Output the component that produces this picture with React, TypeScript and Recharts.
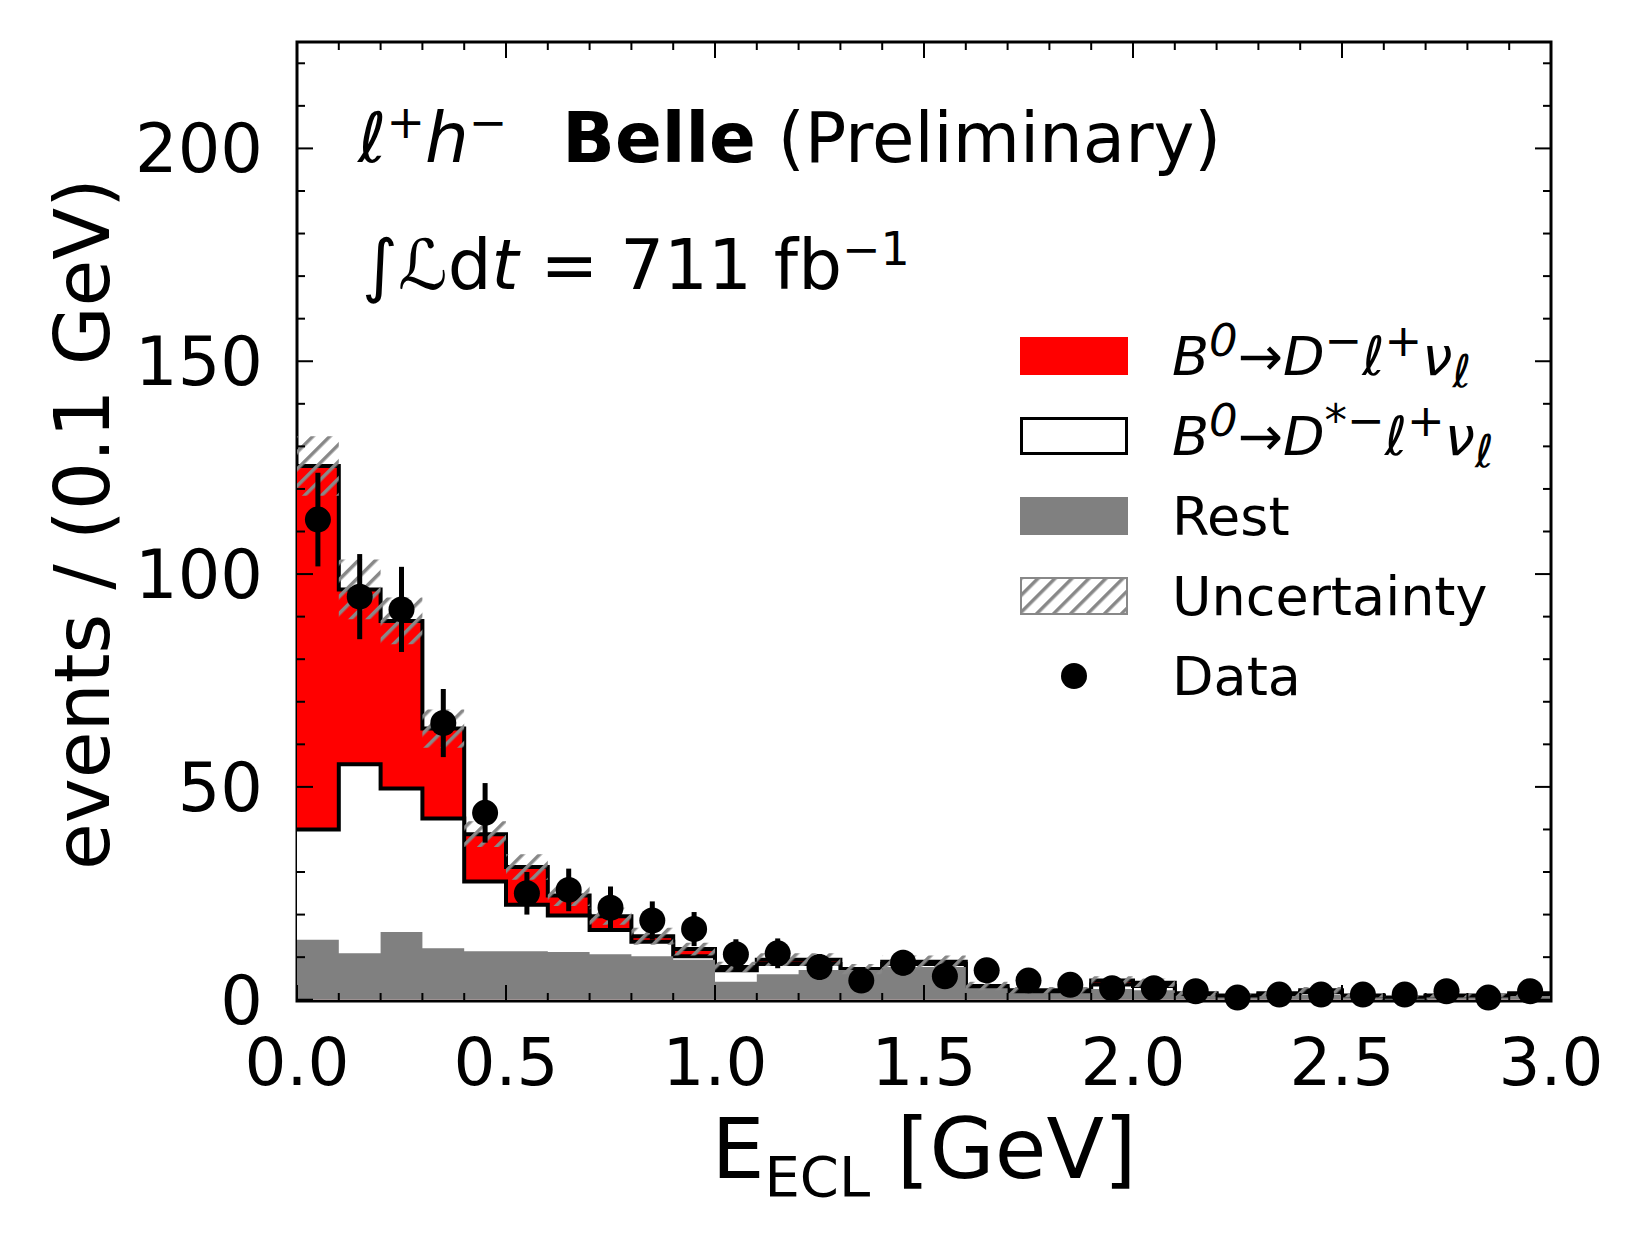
import React from "react"
import { ComposedChart, Area, Scatter, ErrorBar, XAxis, YAxis } from "recharts"

const binLow = Array.from({ length: 30 }, (_, i) => Math.round(i) / 10)
const total = [125.4, 96.4, 89, 63.7, 38.9, 31.2, 24.5, 19.6, 14.9, 11.9, 7.7, 9.4, 9.4, 7.2, 8.9, 8.9, 3.2, 2.2, 2.2, 4.5, 4, 1.5, 1, 1.5, 2.2, 1, 0.5, 1, 1, 1.5]
const dstar = [40, 55.3, 49.6, 42.6, 27.8, 22.3, 19.8, 16.4, 13.6, 10.2, 6.9, 8.4, 8.4, 6.9, 8.4, 8.4, 2.6, 1.8, 1.8, 3.6, 3.2, 1.2, 0.8, 1.2, 1.8, 0.8, 0.4, 0.8, 0.8, 1.2]
const rest = [14.1, 10.9, 15.9, 12.1, 11.4, 11.4, 11.2, 10.7, 10.2, 9.4, 4.2, 6, 7, 7, 7.7, 7.7, 2.7, 1.5, 1.5, 2.5, 2.2, 0.8, 0.5, 0.8, 1.2, 0.5, 0.2, 0.5, 0.5, 0.8]
const unc = [7, 7, 5.5, 4.5, 3, 3, 2.5, 2, 2, 1.5, 1.2, 1.5, 1.5, 1.2, 1.5, 1.5, 1, 0.8, 0.8, 1, 1, 0.6, 0.5, 0.6, 0.8, 0.5, 0.4, 0.5, 0.5, 0.6]
const dataY = [112.8, 94.7, 91.7, 65, 43.9, 25, 25.8, 21.6, 18.6, 16.6, 10.7, 10.9, 7.7, 4.5, 8.7, 5.5, 6.9, 4.5, 3.5, 2.7, 2.7, 2, 0.5, 1.2, 1.2, 1.2, 1.2, 2, 0.5, 2]
const dataErr = [11, 10, 10, 8, 7, 5, 5, 5, 4.5, 4, 3.5, 3.5, 3, 2.2, 3, 2.5, 2.5, 2.2, 1.9, 1.7, 1.7, 1.4, 0.8, 1.1, 1.1, 1.1, 1.1, 1.4, 0.8, 1.4]
const xTicks = Array.from({ length: 31 }, (_, i) => i / 10)
const yTicks = Array.from({ length: 23 }, (_, i) => i * 10)

const L = 297, R = 1551, T = 42, B = 1001
const W = 1647, H = 1235
const FONT = "DejaVu Sans"

const steps = [...binLow, 3].map((x, i) => {
  const j = Math.min(i, 29)
  return { x, total: total[j], dstar: dstar[j], rest: rest[j], band: [total[j] - unc[j], total[j] + unc[j]] }
})
const points = binLow.map((x, i) => ({ x: x + 0.05, y: dataY[i], err: dataErr[i] }))

const isMajor = (v: number, step: number) => Math.abs(v / step - Math.round(v / step)) < 1e-6

const BottomTick = (p: any) => {
  const v = p.payload.value
  const major = isMajor(v, 0.5)
  return (
    <g>
      <line x1={p.x} x2={p.x} y1={B} y2={B - (major ? 16 : 8)} stroke="#000" strokeWidth={2} />
      <line x1={p.x} x2={p.x} y1={T} y2={T + (major ? 16 : 8)} stroke="#000" strokeWidth={2} />
      {major && <text x={p.x} y={B + 84} textAnchor="middle" fontSize={66} fontFamily={FONT}>{v.toFixed(1)}</text>}
    </g>
  )
}
const LeftTick = (p: any) => {
  const v = p.payload.value
  const major = isMajor(v, 50)
  return (
    <g>
      <line x1={L} x2={L + (major ? 16 : 8)} y1={p.y} y2={p.y} stroke="#000" strokeWidth={2} />
      <line x1={R} x2={R - (major ? 16 : 8)} y1={p.y} y2={p.y} stroke="#000" strokeWidth={2} />
      {major && <text x={L - 34} y={p.y + 24} textAnchor="end" fontSize={67} fontFamily={FONT}>{v}</text>}
    </g>
  )
}

const Dot = (p: any) => <circle cx={p.cx} cy={p.cy} r={13} fill="#000" />

const legendItems = [
  { kind: "red", label: <>B<sup>0</sup>→D<sup>−</sup>ℓ<sup>+</sup>ν<sub>ℓ</sub></>, italic: true },
  { kind: "white", label: <>B<sup>0</sup>→D<sup>*−</sup>ℓ<sup>+</sup>ν<sub>ℓ</sub></>, italic: true },
  { kind: "gray", label: <>Rest</> },
  { kind: "hatch", label: <>Uncertainty</> },
  { kind: "dot", label: <>Data</> },
]

export default function App() {
  return (
    <div style={{ position: "absolute", left: 0, top: 0, width: W, height: H, background: "#fff", fontFamily: FONT }}>
      <ComposedChart width={W} height={H} margin={{ top: T, right: W - R, bottom: H - B - 1, left: 0 }}>
        <defs>
          <pattern id="hatch" patternUnits="userSpaceOnUse" width="12" height="12" patternTransform="rotate(45)">
            <rect width="12" height="12" fill="none" />
            <line x1="0" y1="0" x2="0" y2="12" stroke="#888" strokeWidth="7" />
          </pattern>
        </defs>
        <XAxis dataKey="x" type="number" domain={[0, 3]} ticks={xTicks} interval={0} height={1} tick={<BottomTick />} tickLine={false} axisLine={false} allowDataOverflow />
        <YAxis type="number" domain={[0, 225]} ticks={yTicks} interval={0} width={L} tick={<LeftTick />} tickLine={false} axisLine={false} />
        <Area data={steps} dataKey="total" type="stepAfter" fill="#ff0000" fillOpacity={1} stroke="#000" strokeWidth={4} isAnimationActive={false} />
        <Area data={steps} dataKey="dstar" type="stepAfter" fill="#fff" fillOpacity={1} stroke="#000" strokeWidth={4} isAnimationActive={false} />
        <Area data={steps} dataKey="rest" type="stepAfter" fill="#808080" fillOpacity={1} stroke="none" isAnimationActive={false} />
        <Area data={steps} dataKey="band" type="stepAfter" fill="url(#hatch)" fillOpacity={1} stroke="none" isAnimationActive={false} />
        <Scatter data={points} dataKey="y" shape={<Dot />} isAnimationActive={false}>
          <ErrorBar dataKey="err" direction="y" width={0} stroke="#000" strokeWidth={5} />
        </Scatter>
        <rect x={L} y={T} width={R - L} height={B - T} fill="none" stroke="#000" strokeWidth={3} />
      </ComposedChart>

      <div style={{ position: "absolute", left: 358, top: 95, fontSize: 69, whiteSpace: "nowrap" }}>
        <i>ℓ<sup style={{ fontSize: 46 }}>+</sup>h<sup style={{ fontSize: 46 }}>−</sup></i>
        <b style={{ marginLeft: 55 }}>Belle</b> (Preliminary)
      </div>
      <div style={{ position: "absolute", left: 362, top: 222, fontSize: 69, whiteSpace: "nowrap" }}>
        ∫<i>ℒ</i>d<i>t</i> = 711 fb<sup style={{ fontSize: 46 }}>−1</sup>
      </div>

      {legendItems.map((it, i) => (
        <div key={i} style={{ position: "absolute", left: 1020, top: 326 + i * 80, height: 60, display: "flex", alignItems: "center", whiteSpace: "nowrap" }}>
          <div style={{ width: 108, height: 38, display: "flex", alignItems: "center", justifyContent: "center" }}>
            {it.kind === "red" && <div style={{ width: 108, height: 38, background: "#ff0000" }} />}
            {it.kind === "white" && <div style={{ width: 102, height: 32, border: "3px solid #000", background: "#fff" }} />}
            {it.kind === "gray" && <div style={{ width: 108, height: 38, background: "#808080" }} />}
            {it.kind === "hatch" && (
              <svg width={108} height={38}>
                <rect x={1} y={1} width={106} height={36} fill="url(#hatch)" stroke="#888" strokeWidth={2} />
              </svg>
            )}
            {it.kind === "dot" && <div style={{ width: 26, height: 26, borderRadius: 13, background: "#000" }} />}
          </div>
          <div style={{ marginLeft: 44, fontSize: 54, fontStyle: it.italic ? "italic" : "normal" }}>{it.label}</div>
        </div>
      ))}

      <div style={{ position: "absolute", left: L, width: R - L, textAlign: "center", top: 1100, fontSize: 84, whiteSpace: "nowrap" }}>
        E<sub style={{ fontSize: 56 }}>ECL</sub> [GeV]
      </div>
      <div style={{ position: "absolute", left: 82, top: 524, transform: "translate(-50%, -50%) rotate(-90deg)", fontSize: 76, whiteSpace: "nowrap" }}>
        events / (0.1 GeV)
      </div>
    </div>
  )
}
